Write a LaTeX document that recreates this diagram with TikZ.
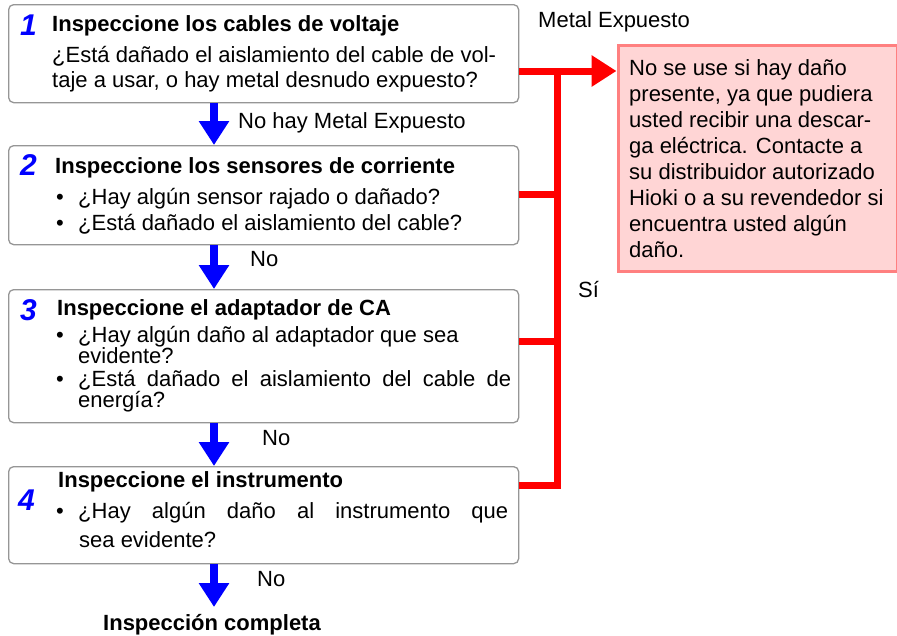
\documentclass[tikz,border=0pt]{standalone}
\usepackage{fontspec}
\setmainfont{Liberation Sans}
\usepackage{xcolor}
\definecolor{boxgray}{RGB}{150,150,150}
\definecolor{warnfill}{RGB}{255,213,213}
\definecolor{warnline}{RGB}{255,128,128}
\definecolor{flowblue}{RGB}{0,0,255}
\definecolor{flowred}{RGB}{255,0,0}
\usetikzlibrary{positioning,arrows.meta,calc}

\begin{document}
\begin{tikzpicture}[x=1pt, y=-1pt,
  stepbox/.style={draw=boxgray, fill=white, line width=1.3pt, rounded corners=5pt, anchor=north west, inner sep=0pt, minimum width=510pt},
  num/.style={anchor=base west, inner sep=0pt, text=flowblue, font=\fontsize{30}{30}\selectfont\bfseries\itshape},
  title/.style={anchor=base west, inner sep=0pt, font=\fontsize{22}{22}\selectfont\bfseries},
  txt/.style={anchor=base west, inner sep=0pt, font=\fontsize{22}{22}\selectfont},
  goarrow/.style={draw=flowblue, line width=8pt, -{Triangle[width=29pt,length=24pt]}},
  redline/.style={draw=flowred, line width=7pt, line join=miter}]
\path[fill=white, use as bounding box] (0,0) rectangle (897,635);

% boxes of the four checks
\node[stepbox, minimum height=98pt] (step1) at (8,4) {};
\node[stepbox, minimum height=99pt] (step2) at (8,145) {};
\node[stepbox, minimum height=133pt] (step3) at (8,289) {};
\node[stepbox, minimum height=97pt] (step4) at (8,466) {};
\node[draw=warnline, fill=warnfill, line width=3pt, anchor=north west, inner sep=0pt,
      minimum width=279pt, minimum height=226pt] (warn) at (616.5,43.5) {};

% check 1
\node[num] (n1) at (20,35) {1};
\node[title] (t1) at (52,31) {Inspeccione los cables de voltaje};
\node[txt] (b1a) at (52,62) {¿Está dañado el aislamiento del cable de vol-};
\node[txt] (b1b) at (52,87) {taje a usar, o hay metal desnudo expuesto?};

% check 2
\node[num] (n2) at (20,175) {2};
\node[title] (t2) at (55,173) {Inspeccione los sensores de corriente};
\node[txt] (d2a) at (56,204) {•};
\node[txt] (b2a) at (78,204) {¿Hay algún sensor rajado o dañado?};
\node[txt] (d2b) at (56,230) {•};
\node[txt] (b2b) at (78,230) {¿Está dañado el aislamiento del cable?};

% check 3
\node[num] (n3) at (20,320) {3};
\node[title] (t3) at (57,315) {Inspeccione el adaptador de CA};
\node[txt] (d3a) at (56,342) {•};
\node[txt] (b3a) at (78,342) {¿Hay algún daño al adaptador que sea};
\node[txt] (b3b) at (78,363) {evidente?};
\node[txt] (d3b) at (56,386) {•};
\node[txt] (b3c) at (78,386) {\makebox[433pt][s]{¿Está dañado el aislamiento del cable de}};
\node[txt] (b3d) at (78,407) {energía?};

% check 4
\node[num] (n4) at (18,510) {4};
\node[title] (t4) at (58,487) {Inspeccione el instrumento};
\node[txt] (d4a) at (56,518) {•};
\node[txt] (b4a) at (78,518) {\makebox[430pt][s]{¿Hay algún daño al instrumento que}};
\node[txt] (b4b) at (79,547) {sea evidente?};

\node[title, anchor=base] (done) at (212,630) {Inspección completa};

% warning text
\foreach \ln [count=\i from 0] in {No se use si hay daño, {presente, ya que pudiera}, usted recibir una descar-,
    {ga eléctrica. Contacte a}, su distribuidor autorizado, Hioki o a su revendedor si,
    encuentra usted algún, daño.}
  \node[txt] (w\i) at (629,75+26*\i) {\ln};

% blue arrows
\coordinate (ax) at (214,0);
\coordinate (fin) at (214,607);
\draw[goarrow] (step1.south -| ax) -- (step2.north -| ax);
\draw[goarrow] (step2.south -| ax) -- (step3.north -| ax);
\draw[goarrow] (step3.south -| ax) -- (step4.north -| ax);
\draw[goarrow] (step4.south -| ax) -- (fin);
\node[txt] (no1) at (238,128) {No hay Metal Expuesto};
\node[txt] (no2) at (250,266) {No};
\node[txt] (no3) at (262,445) {No};
\node[txt] (no4) at (257,586) {No};

% red branch
\coordinate (j1) at (557,71);
\coordinate (j2) at (557,194.5);
\coordinate (j3) at (557,341);
\coordinate (j4) at (557,485);
\draw[redline, -{Triangle[width=30pt,length=25pt]}] (step1.east |- j1) -- (warn.west |- j1);
\draw[redline] (step4.east |- j4) -- (j4) -- (j1);
\draw[redline] (step2.east |- j2) -- (j2);
\draw[redline] (step3.east |- j3) -- (j3);
\node[txt] (metal) at (538,27) {Metal Expuesto};
\node[txt] (si) at (578,297) {Sí};
\end{tikzpicture}
\end{document}
